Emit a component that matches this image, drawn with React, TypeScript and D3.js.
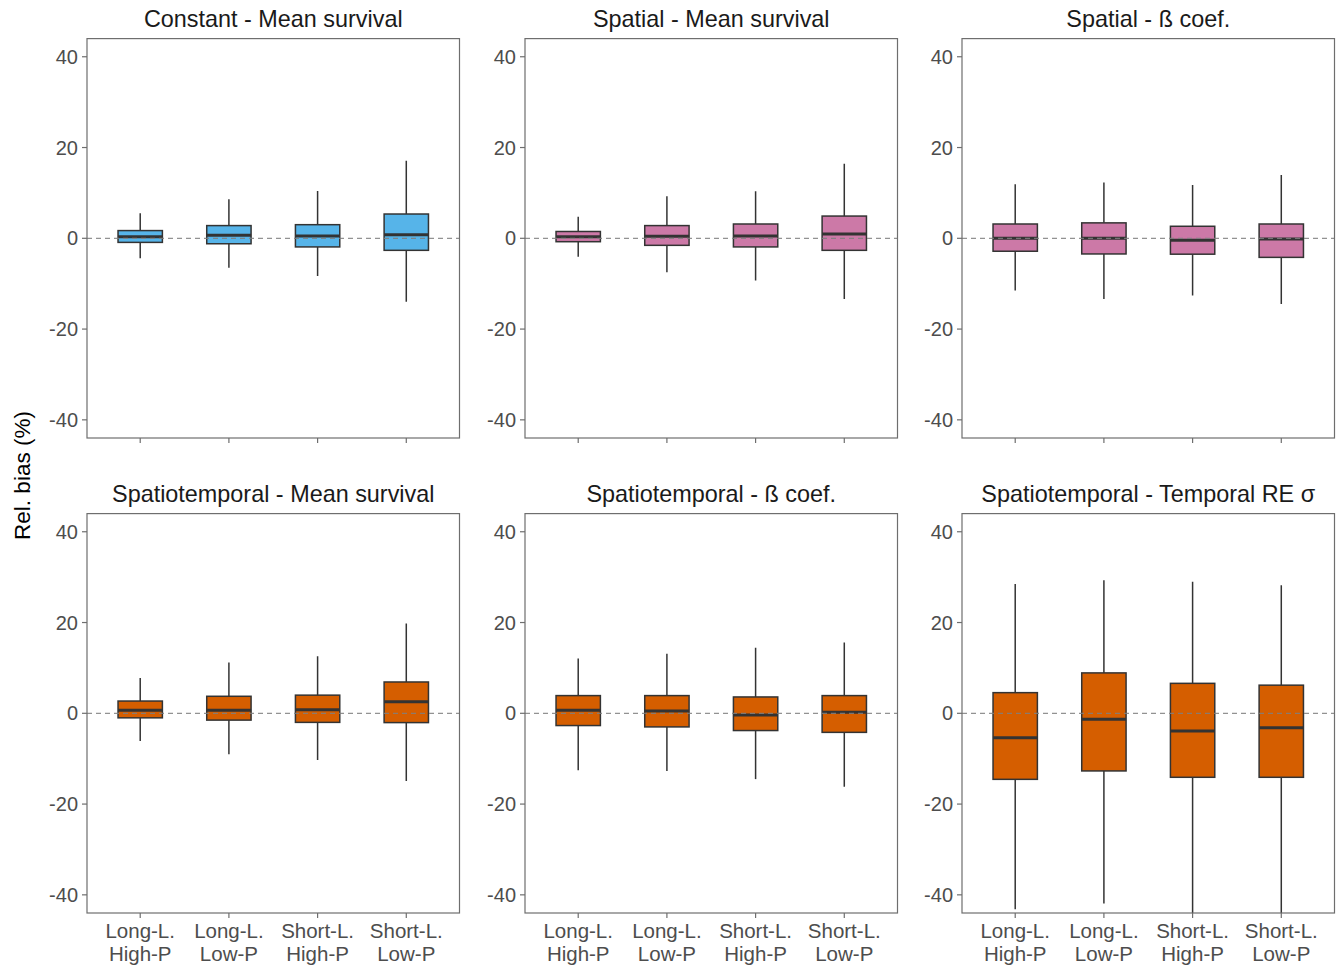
import React from "react";
import * as d3 from "d3";

const categories = ["Long-L.|High-P", "Long-L.|Low-P", "Short-L.|High-P", "Short-L.|Low-P"];
const panelTitles = [
  "Constant - Mean survival",
  "Spatial - Mean survival",
  "Spatial - ß coef.",
  "Spatiotemporal - Mean survival",
  "Spatiotemporal - ß coef.",
  "Spatiotemporal - Temporal RE σ",
];
const panelColors = ["#56B4E9", "#CC79A7", "#CC79A7", "#D55E00", "#D55E00", "#D55E00"];
const yTicks = [-40, -20, 0, 20, 40];

// one row per panel, one value per category
const whiskerLow = [
  [-4.4, -6.5, -8.3, -14.0],
  [-4.05, -7.5, -9.3, -13.4],
  [-11.5, -13.4, -12.6, -14.5],
  [-6.1, -9.0, -10.3, -14.9],
  [-12.55, -12.7, -14.5, -16.2],
  [-43.2, -41.9, -46, -46],
];
const q1 = [
  [-0.9, -1.2, -1.9, -2.65],
  [-0.75, -1.55, -1.9, -2.65],
  [-2.85, -3.45, -3.5, -4.2],
  [-1.0, -1.5, -2.0, -2.05],
  [-2.7, -3.0, -3.8, -4.2],
  [-14.55, -12.7, -14.1, -14.1],
];
const median = [
  [0.35, 0.66, 0.5, 0.8],
  [0.35, 0.44, 0.5, 0.95],
  [0.0, 0.0, -0.45, -0.15],
  [0.66, 0.66, 0.8, 2.55],
  [0.66, 0.5, -0.37, 0.22],
  [-5.4, -1.3, -3.9, -3.2],
];
const q3 = [
  [1.7, 2.8, 3.0, 5.35],
  [1.5, 2.8, 3.15, 4.9],
  [3.15, 3.4, 2.65, 3.15],
  [2.7, 3.75, 4.0, 6.9],
  [3.9, 3.9, 3.6, 3.9],
  [4.55, 8.9, 6.6, 6.2],
];
const whiskerHigh = [
  [5.5, 8.6, 10.4, 17.1],
  [4.75, 9.25, 10.35, 16.4],
  [11.9, 12.3, 11.75, 13.95],
  [7.8, 11.2, 12.55, 19.8],
  [12.1, 13.1, 14.45, 15.6],
  [28.5, 29.3, 29.0, 28.2],
];

const W = 1343;
const H = 971;
const panelLefts = [87, 525, 962];
const panelTops = [38.6, 513.6];
const panelW = 372.5;
const panelH = 399.4;
const FONT = "'Liberation Sans', Arial, Helvetica, sans-serif";
const OUTLINE = "#333333";

function Panel({ idx }: { idx: number }) {
  const col = idx % 3;
  const row = Math.floor(idx / 3);
  const left = panelLefts[col];
  const top = panelTops[row];
  const x = d3.scalePoint<string>().domain(categories).range([0, panelW]).padding(0.6);
  const y = d3.scaleLinear().domain([-44, 44]).range([panelH, 0]);
  const bw = x.step() * 0.5;
  const clipId = `clip-${idx}`;
  return (
    <g transform={`translate(${left},${top})`}>
      <defs>
        <clipPath id={clipId}>
          <rect x={0} y={0} width={panelW} height={panelH} />
        </clipPath>
      </defs>
      <text
        x={panelW / 2}
        y={-11.3}
        textAnchor="middle"
        fontSize={23.4}
        fill="#1a1a1a"
        fontFamily={FONT}
      >
        {panelTitles[idx]}
      </text>
      <g clipPath={`url(#${clipId})`}>
        {categories.map((c, i) => {
          const cx = x(c) as number;
          return (
            <g key={c}>
              <line x1={cx} x2={cx} y1={y(whiskerHigh[idx][i])} y2={y(q3[idx][i])} stroke={OUTLINE} strokeWidth={1.5} />
              <line x1={cx} x2={cx} y1={y(q1[idx][i])} y2={y(whiskerLow[idx][i])} stroke={OUTLINE} strokeWidth={1.5} />
              <rect
                x={cx - bw / 2}
                y={y(q3[idx][i])}
                width={bw}
                height={y(q1[idx][i]) - y(q3[idx][i])}
                fill={panelColors[idx]}
                stroke={OUTLINE}
                strokeWidth={1.5}
              />
              <line x1={cx - bw / 2} x2={cx + bw / 2} y1={y(median[idx][i])} y2={y(median[idx][i])} stroke={OUTLINE} strokeWidth={3} />
            </g>
          );
        })}
        <line x1={0} x2={panelW} y1={y(0)} y2={y(0)} stroke="#7f7f7f" strokeOpacity={0.85} strokeWidth={1.2} strokeDasharray="5,4" />
      </g>
      <rect x={0} y={0} width={panelW} height={panelH} fill="none" stroke="#6e6e6e" strokeWidth={1.2} />
      {yTicks.map((t) => (
        <g key={t}>
          <line x1={-5} x2={0} y1={y(t)} y2={y(t)} stroke="#6e6e6e" strokeWidth={1.2} />
          <text
            x={-9}
            y={y(t)}
            dy="0.36em"
            textAnchor="end"
            fontSize={20}
            fill="#4D4D4D"
            fontFamily={FONT}
          >
            {t}
          </text>
        </g>
      ))}
      {categories.map((c) => {
        const cx = x(c) as number;
        const lines = c.split("|");
        return (
          <g key={c}>
            <line x1={cx} x2={cx} y1={panelH} y2={panelH + 5} stroke="#6e6e6e" strokeWidth={1.2} />
            {row === 1 &&
              lines.map((ln, k) => (
                <text
                  key={k}
                  x={cx}
                  y={panelH + 25 + k * 23.3}
                  textAnchor="middle"
                  fontSize={20.5}
                  fill="#4D4D4D"
                  fontFamily={FONT}
                >
                  {ln}
                </text>
              ))}
          </g>
        );
      })}
    </g>
  );
}

export default function App() {
  return (
    <svg width={W} height={H} style={{ position: "absolute", left: 0, top: 0, background: "#fff" }}>
      <rect x={0} y={0} width={W} height={H} fill="#fff" />
      <text
        transform={`translate(22,475.5) rotate(-90)`}
        textAnchor="middle"
        dy="0.36em"
        fontSize={22.5}
        fill="#000"
        fontFamily={FONT}
      >
        Rel. bias (%)
      </text>
      {panelTitles.map((_, i) => (
        <Panel key={i} idx={i} />
      ))}
    </svg>
  );
}
